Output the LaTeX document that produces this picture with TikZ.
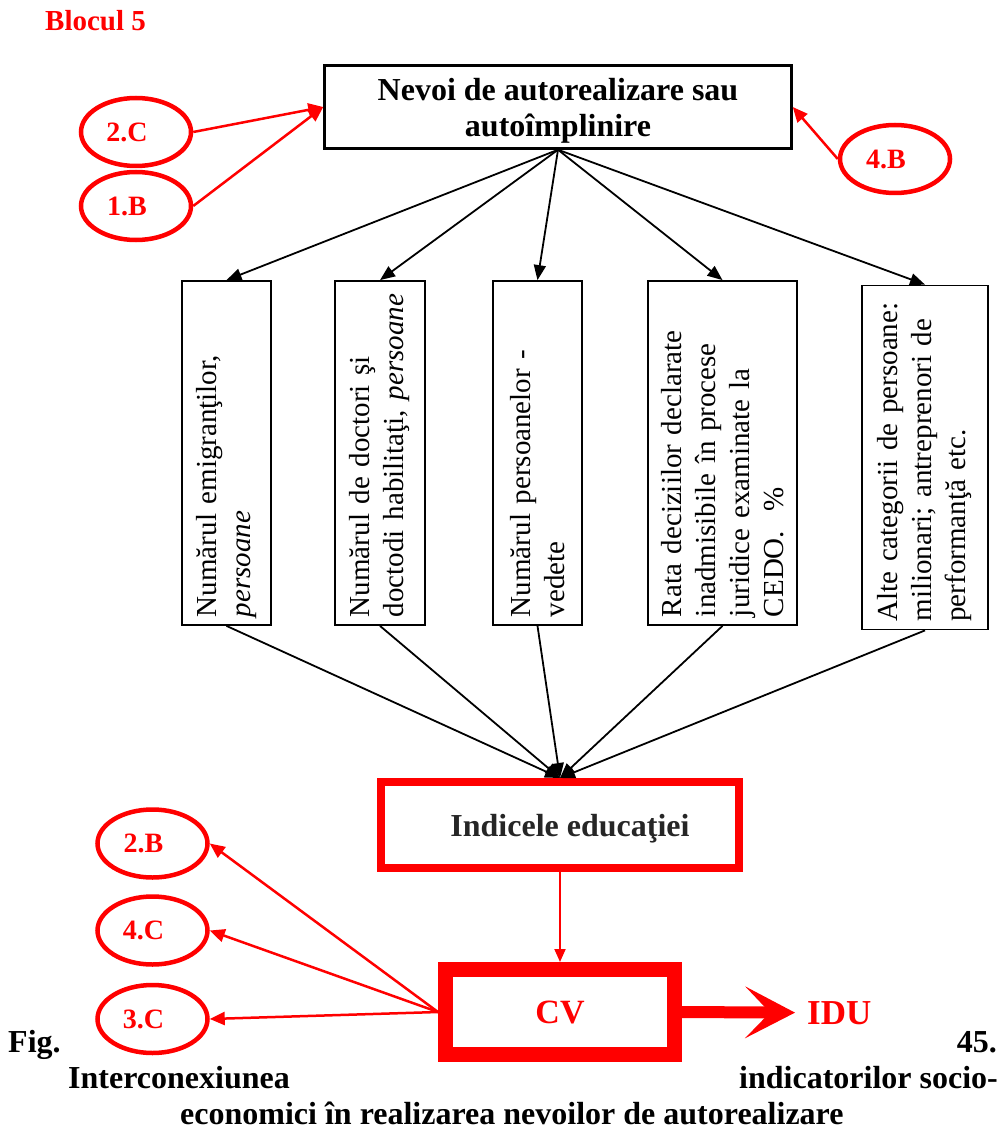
\documentclass[tikz,border=0pt]{standalone}
\usepackage{fontspec}
\setmainfont{Liberation Serif}
\usetikzlibrary{shapes.geometric,arrows.meta}
\definecolor{wred}{RGB}{255,0,0}
\begin{document}
\begin{tikzpicture}[x=1pt,y=-1pt,
  lab/.style={ellipse, draw=wred, line width=4.5pt, minimum width=110pt, minimum height=68pt, inner sep=0pt, text=wred, font=\fontsize{28}{30}\selectfont\bfseries},
  vbox/.style={draw, line width=1.8pt, rotate=90, minimum width=344pt, inner xsep=8pt, inner ysep=0pt, text width=328pt, align=left, font=\fontsize{29}{34}\selectfont},
  blk/.style={line width=1.8pt, -{Triangle[length=15pt,width=12pt]}},
  rarr/.style={wred, line width=2.5pt, -{Triangle[length=15pt,width=13pt]}},
  captext/.style={inner sep=0pt, font=\fontsize{32}{36}\selectfont\bfseries},
]
\useasboundingbox (0,0) rectangle (1003,1131);

\node[anchor=base west, inner sep=0pt, text=wred, font=\fontsize{29}{30}\selectfont\bfseries] (blk5) at (45,31) {Blocul 5};

\node[draw, line width=2.5pt, minimum width=467pt, minimum height=83pt, align=center, text depth=0pt, font=\fontsize{32}{36}\selectfont\bfseries] (top) at (558,107) {Nevoi de autorealizare sau\\autoîmplinire};

\node[lab] (e2C) at (136,132) {\hspace*{-18pt}2.C};
\node[lab] (e1B) at (136,206) {\hspace*{-18pt}1.B};
\node[lab] (e4B) at (895,159) {\hspace*{-18pt}4.B};

\node[vbox, minimum height=89pt] (b1) at (226.5,453) {Numărul emigranţilor,\\\textit{persoane}};
\node[vbox, minimum height=90pt] (b2) at (380,453) {Numărul de doctori şi\\doctodi habilitaţi, \textit{persoane}};
\node[vbox, minimum height=89pt] (b3) at (537.5,453) {Numărul persoanelor -\\vedete};
\node[vbox, minimum height=149pt] (b4) at (722.5,453) {Rata deciziilor declarate\\inadmisibile în procese\\juridice examinate la\\CEDO.~~\%};
\node[vbox, minimum height=126pt] (b5) at (925,457.5) {Alte categorii de persoane:\\milionari; antreprenori de\\performanţă etc.};

\node[draw=wred, line width=8pt, minimum width=358pt, minimum height=86pt, inner sep=0pt, text=black!85, text depth=0pt, font=\fontsize{32}{36}\selectfont\bfseries] (ind) at (560,825) {\hspace*{20pt}Indicele educaţiei};

\node[draw=wred, line width=15pt, minimum width=229pt, minimum height=85pt, inner sep=0pt, text=wred, font=\fontsize{34}{36}\selectfont\bfseries] (cv) at (560,1012) {CV};

\node[anchor=base west, inner sep=0pt, text=wred, font=\fontsize{35}{36}\selectfont\bfseries] (idu) at (807,1024) {IDU};

\node[lab] (e2B) at (152.5,843.5) {\hspace*{-18pt}2.B};
\node[lab] (e4C) at (152.5,930.5) {\hspace*{-18pt}4.C};
\node[lab] (e3C) at (152.5,1019) {\hspace*{-18pt}3.C};

% caption
\node[captext, anchor=base west] (fig) at (8,1052) {Fig.};
\node[captext, anchor=base east] (num) at (997,1052) {45.};
\node[captext, anchor=base west] (cap1) at (68,1088) {Interconexiunea};
\node[captext, anchor=base east] (cap2) at (998,1088) {indicatorilor socio-};
\node[captext, anchor=base west] (cap3) at (180,1124) {economici în realizarea nevoilor de autorealizare};

% top connectors
\draw[rarr] (e2C.east) -- (top.west);
\draw[rarr] (e1B.east) -- (top.west);
\draw[rarr] (e4B.west) -- (top.east);

\foreach \b in {b1,b2,b3,b4,b5} {
  \draw[blk] (top.south) -- (\b.east);
  \draw[blk] (\b.west) -- (ind.north);
}

\draw[rarr, line width=2pt, -{Triangle[length=13pt,width=11pt]}] (ind.south) -- (cv.north);
\draw[rarr] (cv.west) -- (e2B.east);
\draw[rarr] (cv.west) -- (e4C.east);
\draw[rarr] (cv.west) -- (e3C.east);

\draw[wred, line width=12pt, -{Stealth[length=50pt,width=52pt,inset=25pt,line width=0pt]}, shorten >=12pt] (cv.east) -- (idu.west);
\end{tikzpicture}
\end{document}
